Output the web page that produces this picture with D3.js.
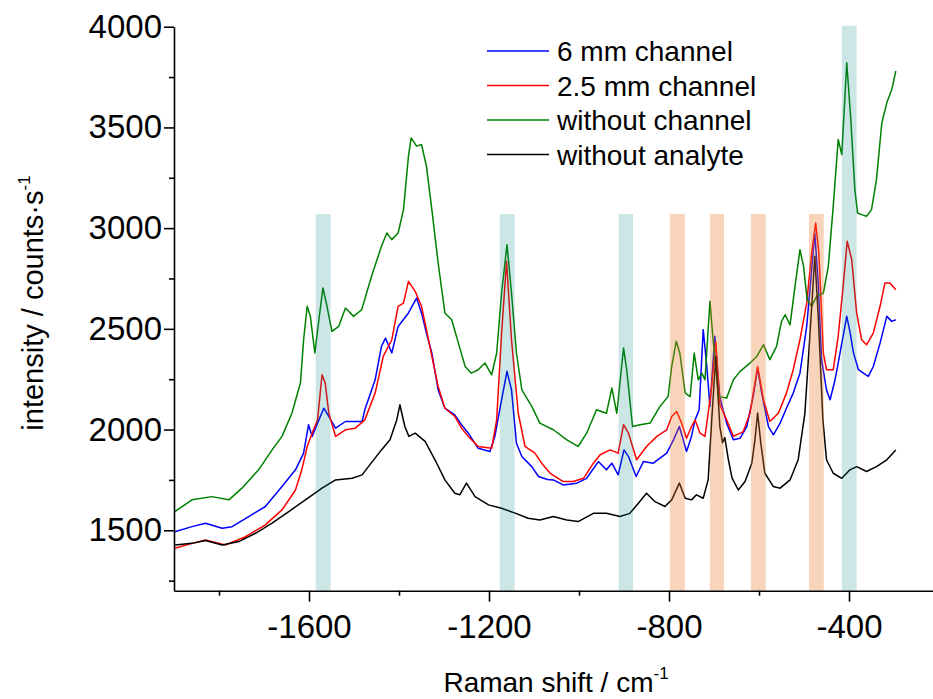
<!DOCTYPE html>
<html>
<head>
<meta charset="utf-8">
<script src="https://cdn.jsdelivr.net/npm/d3@7"></script>
<style>
  body { margin: 0; background: #fff; }
  svg { font-family: "Liberation Sans", Arial, sans-serif; }
</style>
</head>
<body>
<div id="chart"></div>
<script>
const width = 933, height = 699;

// spectra: [Raman shift, intensity]
const sixMm = [[-1898,1493],[-1860,1518],[-1830,1535],[-1793,1510],[-1771,1518],[-1734,1568],[-1697,1618],[-1660,1717],[-1630,1800],[-1612,1883],[-1601,2024],[-1593,1966],[-1578,2048],[-1567,2106],[-1556,2065],[-1541,2007],[-1519,2040],[-1482,2040],[-1476,2098],[-1453,2247],[-1439,2413],[-1430,2454],[-1416,2380],[-1402,2512],[-1379,2579],[-1361,2653],[-1350,2579],[-1339,2479],[-1327,2380],[-1313,2197],[-1298,2106],[-1276,2073],[-1261,2024],[-1246,1982],[-1224,1907],[-1198,1891],[-1187,1966],[-1172,2148],[-1160,2289],[-1150,2197],[-1139,1932],[-1127,1866],[-1105,1816],[-1090,1767],[-1070,1752],[-1057,1750],[-1035,1725],[-1005,1734],[-983,1758],[-957,1841],[-939,1800],[-927,1833],[-913,1775],[-900,1899],[-890,1866],[-873,1767],[-857,1841],[-835,1833],[-805,1883],[-790,1949],[-777,2015],[-761,1891],[-750,1966],[-742,2048],[-733,2098],[-724,2496],[-716,2313],[-709,2115],[-698,2463],[-687,2160],[-672,2032],[-657,1949],[-642,1957],[-627,2015],[-613,2164],[-603,2305],[-594,2181],[-579,2015],[-568,1974],[-553,2032],[-539,2106],[-524,2181],[-509,2280],[-494,2512],[-483,2794],[-476,2976],[-468,2711],[-461,2347],[-450,2197],[-442,2148],[-431,2247],[-420,2380],[-405,2562],[-398,2487],[-390,2380],[-379,2297],[-368,2280],[-357,2264],[-346,2313],[-331,2429],[-316,2562],[-305,2537],[-296,2545]];

const twoFiveMm = [[-1898,1411],[-1860,1435],[-1830,1452],[-1786,1427],[-1741,1468],[-1697,1527],[-1660,1601],[-1630,1700],[-1616,1800],[-1604,1916],[-1593,1982],[-1581,2048],[-1571,2272],[-1564,2231],[-1556,2081],[-1541,1966],[-1519,1999],[-1497,2007],[-1476,2048],[-1453,2181],[-1435,2363],[-1416,2446],[-1402,2612],[-1390,2628],[-1379,2736],[-1364,2686],[-1350,2612],[-1339,2496],[-1327,2363],[-1313,2214],[-1298,2106],[-1276,2065],[-1261,2007],[-1246,1966],[-1224,1916],[-1194,1907],[-1183,2048],[-1172,2479],[-1161,2835],[-1150,2446],[-1135,2081],[-1120,1916],[-1098,1883],[-1083,1833],[-1064,1783],[-1035,1742],[-1013,1742],[-990,1758],[-968,1833],[-953,1875],[-931,1899],[-913,1883],[-901,2024],[-890,1982],[-872,1850],[-850,1916],[-827,1966],[-805,1999],[-794,2065],[-783,2090],[-772,2032],[-761,1957],[-750,2015],[-742,2048],[-731,1982],[-720,1966],[-713,2081],[-705,2214],[-696,2435],[-687,2125],[-672,2048],[-657,1966],[-635,1990],[-620,2081],[-603,2313],[-590,2148],[-576,2040],[-557,2081],[-539,2181],[-524,2297],[-509,2446],[-494,2628],[-483,2877],[-474,3026],[-467,2877],[-457,2380],[-450,2297],[-435,2297],[-424,2463],[-413,2711],[-404,2935],[-394,2844],[-383,2579],[-372,2446],[-361,2421],[-346,2479],[-331,2612],[-320,2728],[-309,2728],[-296,2694]];

const noChannel = [[-1898,1593],[-1860,1651],[-1816,1667],[-1778,1651],[-1749,1709],[-1712,1800],[-1682,1899],[-1660,1966],[-1638,2081],[-1619,2231],[-1612,2446],[-1604,2612],[-1597,2562],[-1587,2380],[-1578,2545],[-1569,2703],[-1560,2612],[-1549,2487],[-1534,2512],[-1519,2603],[-1501,2562],[-1483,2595],[-1461,2761],[-1439,2910],[-1427,2976],[-1416,2943],[-1402,2976],[-1390,3092],[-1379,3357],[-1373,3448],[-1361,3407],[-1350,3415],[-1339,3307],[-1327,3092],[-1313,2827],[-1298,2579],[-1283,2545],[-1268,2429],[-1253,2313],[-1239,2280],[-1224,2297],[-1209,2330],[-1194,2272],[-1183,2380],[-1172,2678],[-1160,2918],[-1150,2678],[-1139,2380],[-1127,2197],[-1105,2115],[-1087,2032],[-1057,1999],[-1027,1949],[-1002,1916],[-983,1982],[-961,2098],[-939,2081],[-927,2206],[-916,2081],[-901,2405],[-894,2297],[-881,2015],[-864,2024],[-842,2032],[-820,2115],[-802,2164],[-794,2313],[-784,2438],[-776,2380],[-764,2181],[-753,2164],[-744,2380],[-735,2247],[-727,2280],[-720,2247],[-709,2637],[-702,2446],[-690,2164],[-672,2156],[-657,2247],[-642,2289],[-620,2330],[-605,2363],[-590,2421],[-576,2347],[-561,2413],[-550,2537],[-542,2570],[-531,2520],[-520,2711],[-509,2893],[-501,2810],[-493,2645],[-483,2612],[-472,2661],[-457,2678],[-446,2810],[-435,3109],[-424,3440],[-416,3365],[-405,3821],[-396,3539],[-387,3191],[-381,3075],[-372,3067],[-361,3059],[-350,3092],[-339,3241],[-327,3523],[-316,3622],[-305,3688],[-296,3780]];

const noAnalyte = [[-1898,1427],[-1860,1435],[-1830,1449],[-1793,1427],[-1756,1444],[-1719,1485],[-1682,1535],[-1645,1593],[-1608,1651],[-1571,1709],[-1541,1750],[-1504,1758],[-1482,1775],[-1468,1816],[-1439,1899],[-1420,1949],[-1405,2048],[-1398,2123],[-1387,2015],[-1378,1966],[-1364,1982],[-1342,1941],[-1320,1850],[-1298,1750],[-1276,1684],[-1265,1676],[-1250,1734],[-1231,1667],[-1201,1626],[-1172,1609],[-1142,1585],[-1113,1560],[-1087,1551],[-1057,1568],[-1027,1551],[-1002,1543],[-968,1584],[-939,1584],[-909,1568],[-887,1584],[-868,1634],[-850,1684],[-831,1642],[-809,1618],[-794,1651],[-777,1734],[-764,1659],[-750,1651],[-739,1676],[-724,1659],[-713,1750],[-705,2048],[-696,2363],[-687,2015],[-681,1935],[-676,1960],[-668,1850],[-660,1760],[-646,1700],[-631,1742],[-616,1833],[-609,1949],[-603,2082],[-596,1932],[-587,1783],[-568,1717],[-553,1709],[-531,1750],[-513,1850],[-498,2082],[-487,2463],[-476,2860],[-468,2545],[-458,2048],[-450,1850],[-435,1783],[-416,1758],[-398,1800],[-383,1816],[-361,1792],[-339,1816],[-316,1850],[-296,1899]];

const seriesNames = ['6 mm channel', '2.5 mm channel', 'without channel', 'without analyte'];
const seriesColors = ['#0000ff', '#ff0000', '#008000', '#000000'];
const seriesData = [sixMm, twoFiveMm, noChannel, noAnalyte];

// highlighted bands: [from, to, top intensity]
const cyanBands = [[-1585, -1552, 3070], [-1176, -1143, 3070], [-912, -880, 3070], [-416, -383, 4005]];
const orangeBands = [[-798, -765, 3070], [-709, -678, 3070], [-618, -585, 3070], [-489, -456, 3070]];

const xMajor = [-1600, -1200, -800, -400];
const xMinor = [-1800, -1400, -1000, -600];
const yMajor = [1500, 2000, 2500, 3000, 3500, 4000];
const yMinor = [1250, 1750, 2250, 2750, 3250, 3750];

const svg = d3.select('#chart').append('svg')
    .attr('width', width)
    .attr('height', height);

const x = d3.scaleLinear().domain([-1900, -200]).range([174, 939]);
const y = d3.scaleLinear().domain([1200, 4000]).range([590.7, 26.7]);

const line = d3.line()
    .x(d => x(d[0]))
    .y(d => y(d[1]));

// spectra
seriesData.forEach((data, i) => {
    svg.append('path')
        .datum(data)
        .attr('fill', 'none')
        .attr('stroke', seriesColors[i])
        .attr('stroke-width', 1.5)
        .attr('stroke-linejoin', 'round')
        .attr('d', line);
});

// bands sit on top, semi transparent
svg.selectAll('rect.cyan')
    .data(cyanBands)
    .enter()
    .append('rect')
    .attr('x', d => x(d[0]))
    .attr('width', d => x(d[1]) - x(d[0]))
    .attr('y', d => y(d[2]))
    .attr('height', d => y(1200) - y(d[2]))
    .attr('fill', 'rgb(0,128,128)')
    .attr('fill-opacity', 0.2);

svg.selectAll('rect.orange')
    .data(orangeBands)
    .enter()
    .append('rect')
    .attr('x', d => x(d[0]))
    .attr('width', d => x(d[1]) - x(d[0]))
    .attr('y', d => y(d[2]))
    .attr('height', d => y(1200) - y(d[2]))
    .attr('fill', 'rgb(232,120,40)')
    .attr('fill-opacity', 0.32);

// X axis
const xAxisMinor = svg.append('g')
    .attr('transform', `translate(0,${y(1200)})`)
    .call(d3.axisBottom(x).tickValues(xMinor).tickSize(5).tickSizeOuter(0).tickFormat(''));
const xAxisMajor = svg.append('g')
    .attr('transform', `translate(0,${y(1200)})`)
    .call(d3.axisBottom(x).tickValues(xMajor).tickSize(11).tickSizeOuter(0).tickPadding(13).tickFormat(d3.format('d')));
xAxisMajor.select('.domain').remove();

// Y axis
const yAxisMinor = svg.append('g')
    .attr('transform', `translate(${x(-1900)},0)`)
    .call(d3.axisLeft(y).tickValues(yMinor).tickSize(5).tickSizeOuter(0).tickFormat(''));
const yAxisMajor = svg.append('g')
    .attr('transform', `translate(${x(-1900)},0)`)
    .call(d3.axisLeft(y).tickValues(yMajor).tickSize(10).tickSizeOuter(0).tickPadding(2).tickFormat(d3.format('d')));
yAxisMajor.select('.domain').remove();

svg.selectAll('.domain, .tick line')
    .attr('stroke', '#000')
    .attr('stroke-width', 1.6);
svg.selectAll('.tick text')
    .attr('fill', '#000')
    .style('font-size', '33px')
    .style('font-family', '"Liberation Sans", Arial, sans-serif');
xAxisMajor.selectAll('.tick text').text(d => d < 0 ? '-' + Math.abs(d) : d);

// X Label
const xLabel = svg.append('text')
    .attr('x', 556)
    .attr('y', 692)
    .attr('text-anchor', 'middle')
    .style('font-size', '28px');
xLabel.append('tspan').text('Raman shift / cm');
xLabel.append('tspan').attr('dy', -13).style('font-size', '17px').text('-1');

// Y Label
const yLabel = svg.append('text')
    .attr('transform', 'rotate(-90)')
    .attr('x', -303)
    .attr('y', 43)
    .attr('text-anchor', 'middle')
    .style('font-size', '29px');
yLabel.append('tspan').text('intensity / counts\u00b7s');
yLabel.append('tspan').attr('dy', -13).style('font-size', '17px').text('-1');

// Legend
const legend = svg.append('g').attr('transform', 'translate(487,51)');
seriesNames.forEach((name, i) => {
    const row = legend.append('g').attr('transform', `translate(0,${i * 34.5})`);
    row.append('line')
        .attr('x1', 0).attr('x2', 62)
        .attr('stroke', seriesColors[i])
        .attr('stroke-width', 1.5);
    row.append('text')
        .attr('x', 70)
        .attr('y', 10)
        .style('font-size', '28px')
        .text(name);
});
</script>
</body>
</html>
